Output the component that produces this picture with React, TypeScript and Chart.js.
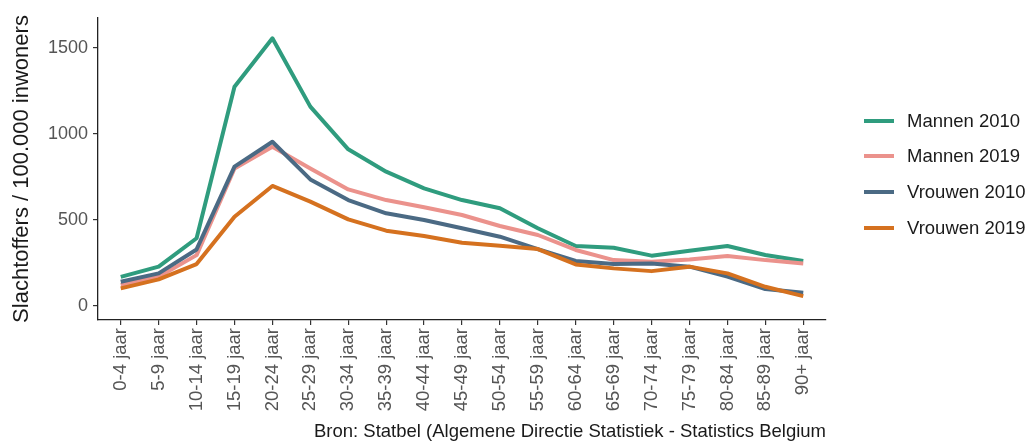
import React, { useEffect, useRef } from "react";
import { Chart, registerables } from "chart.js";

Chart.register(...registerables);

const categories = [
  "0-4 jaar", "5-9 jaar", "10-14 jaar", "15-19 jaar", "20-24 jaar", "25-29 jaar",
  "30-34 jaar", "35-39 jaar", "40-44 jaar", "45-49 jaar", "50-54 jaar", "55-59 jaar",
  "60-64 jaar", "65-69 jaar", "70-74 jaar", "75-79 jaar", "80-84 jaar", "85-89 jaar", "90+ jaar",
];

const mannen2010 = [170, 229, 394, 1275, 1556, 1159, 911, 781, 684, 616, 568, 452, 349, 339, 293, 322, 349, 297, 262];
const mannen2019 = [122, 170, 296, 800, 926, 800, 678, 616, 574, 529, 465, 413, 326, 267, 258, 271, 291, 267, 248];
const vrouwen2010 = [141, 190, 329, 810, 955, 736, 616, 539, 500, 452, 403, 331, 262, 244, 248, 229, 171, 99, 77];
const vrouwen2019 = [103, 155, 244, 519, 698, 607, 504, 438, 407, 368, 351, 331, 242, 219, 203, 229, 190, 112, 58];

const seriesNames = ["Mannen 2010", "Mannen 2019", "Vrouwen 2010", "Vrouwen 2019"];
const seriesColors = ["#2f9c7e", "#eb928c", "#4b6a84", "#d5711f"];
const yTicks = [0, 500, 1000, 1500];

const yTitle = "Slachtoffers / 100.000 inwoners";
const caption = "Bron: Statbel (Algemene Directie Statistiek - Statistics Belgium";

const FONT = "'Liberation Sans', Arial, Helvetica, sans-serif";

export default function App() {
  const ref = useRef<HTMLCanvasElement | null>(null);

  useEffect(() => {
    if (!ref.current) return;
    const allSeries = [mannen2010, mannen2019, vrouwen2010, vrouwen2019];
    const chart = new Chart(ref.current, {
      type: "line",
      data: {
        datasets: allSeries.map((s, k) => ({
          label: seriesNames[k],
          data: s.map((v, i) => ({ x: i, y: v })),
          borderColor: seriesColors[k],
          backgroundColor: seriesColors[k],
          borderWidth: 4,
          pointRadius: 0,
          tension: 0,
          borderJoinStyle: "round" as const,
          order: 3 - k,
        })),
      },
      options: {
        animation: false,
        responsive: true,
        maintainAspectRatio: false,
        layout: { padding: { top: 18, right: 206, left: 0, bottom: 0 } },
        plugins: { legend: { display: false }, tooltip: { enabled: false } },
        scales: {
          x: {
            type: "linear",
            min: -0.6,
            max: categories.length - 1 + 0.6,
            afterBuildTicks: (scale: any) => {
              scale.ticks = categories.map((_, i) => ({ value: i }));
            },
            afterFit: (scale: any) => {
              scale.height = 121;
            },
            ticks: {
              autoSkip: false,
              maxRotation: 90,
              minRotation: 90,
              padding: 3,
              color: "#555555",
              font: { family: FONT, size: 18.5 },
              callback: (v: any) => categories[Math.round(Number(v))] ?? "",
            },
            grid: {
              drawOnChartArea: false,
              drawTicks: true,
              tickLength: 5,
              color: "#333333",
              lineWidth: 1.2,
            },
            border: { display: true, color: "#222222", width: 1.3 },
            title: {
              display: true,
              text: caption,
              align: "end",
              color: "#1a1a1a",
              font: { family: FONT, size: 18.5, lineHeight: 1 },
              padding: { top: 0, bottom: 0 },
            },
          },
          y: {
            type: "linear",
            min: -81,
            max: 1674,
            afterBuildTicks: (scale: any) => {
              scale.ticks = yTicks.map((v) => ({ value: v }));
            },
            afterFit: (scale: any) => {
              scale.width = 98;
            },
            ticks: {
              padding: 5,
              color: "#555555",
              font: { family: FONT, size: 18 },
              callback: (v: any) => String(v),
            },
            grid: {
              drawOnChartArea: false,
              drawTicks: true,
              tickLength: 5,
              color: "#333333",
              lineWidth: 1.2,
            },
            border: { display: true, color: "#222222", width: 1.3 },
            title: {
              display: true,
              text: yTitle,
              color: "#1a1a1a",
              font: { family: FONT, size: 22, lineHeight: 1.2 },
              padding: { top: 9, bottom: 0 },
            },
          },
        },
      },
    });
    return () => chart.destroy();
  }, []);

  const legendRows = [121, 156, 192, 228];

  return (
    <div style={{ position: "fixed", left: 0, top: 0, width: 1032, height: 441, background: "#ffffff" }}>
      <canvas ref={ref} />
      {seriesNames.map((name, k) => (
        <div
          key={name}
          style={{
            position: "absolute",
            left: 864,
            top: legendRows[k] - 12,
            height: 24,
            display: "flex",
            alignItems: "center",
            fontFamily: FONT,
            fontSize: 18.5,
            color: "#1a1a1a",
            whiteSpace: "nowrap",
          }}
        >
          <span style={{ display: "inline-block", width: 30, height: 4, background: seriesColors[k], marginRight: 13 }} />
          <span>{name}</span>
        </div>
      ))}
    </div>
  );
}
